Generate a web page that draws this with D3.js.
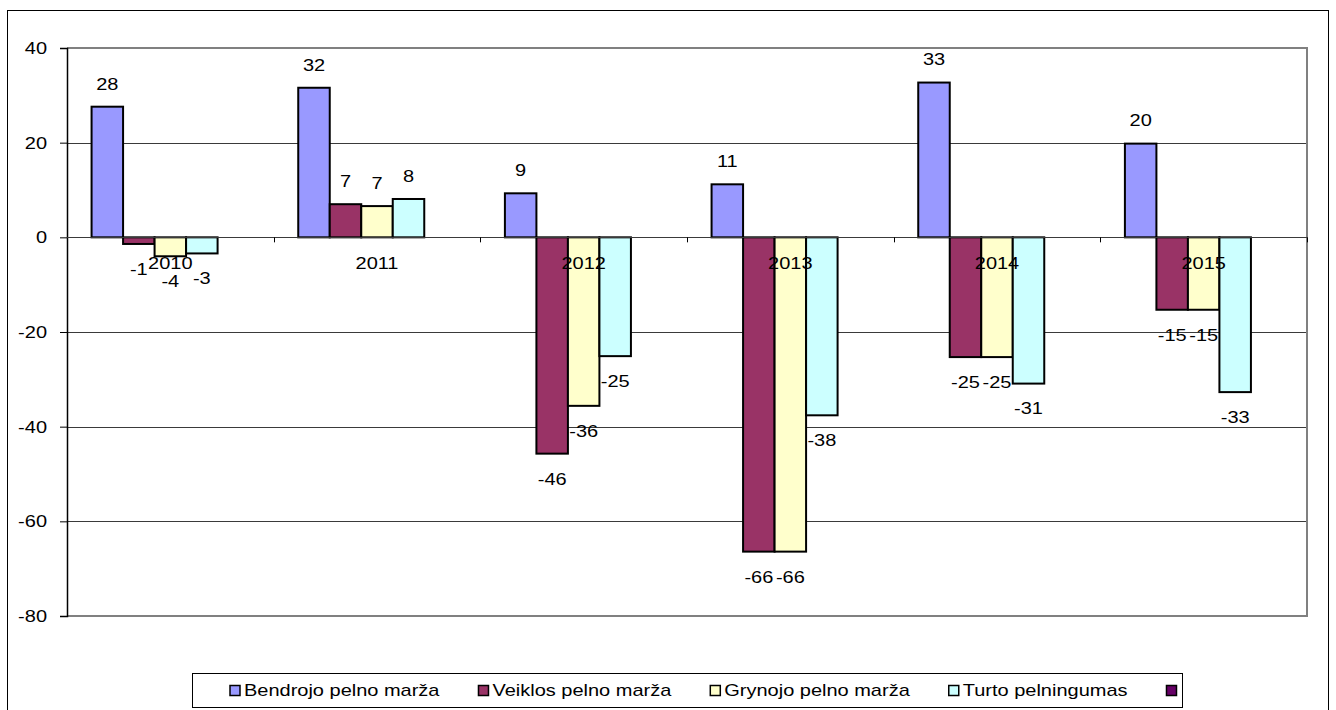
<!DOCTYPE html>
<html>
<head>
<meta charset="utf-8">
<script src="https://cdn.jsdelivr.net/npm/d3@7"></script>
<style>
  html, body { margin: 0; padding: 0; background: #fff; }
  svg { display: block; }
  text { font-family: "Liberation Sans", Arial, sans-serif; fill: #000; }
</style>
</head>
<body>
<svg id="chart" width="1336" height="710"></svg>
<script>
// ---- data ----
const years = ["2010", "2011", "2012", "2013", "2014", "2015"];
const seriesNames = ["Bendrojo pelno marža", "Veiklos pelno marža", "Grynojo pelno marža", "Turto pelningumas", ""];
const seriesColors = ["#9999FF", "#993366", "#FFFFCC", "#CCFFFF", "#660066"];
const bendrojo = [27.6, 31.6, 9.3, 11.2, 32.7, 19.8];
const veiklos  = [-1.4, 7.0, -45.7, -66.4, -25.3, -15.3];
const grynojo  = [-4.0, 6.6, -35.6, -66.4, -25.3, -15.3];
const turto    = [-3.4, 8.1, -25.1, -37.6, -30.9, -32.7];
const yTicks = [40, 20, 0, -20, -40, -60, -80];

const seriesValues = [bendrojo, veiklos, grynojo, turto, []];

// ---- layout ----
const svg = d3.select("#chart");
const SX = 1.19;          // horizontal stretch of the text
const FS = 16.8;          // font size
const L = 67, R = 1307, T = 48, B = 616;

function stext(g, x, y, str, anchor) {
  return g.append("text")
    .attr("transform", `translate(${x},${y}) scale(${SX},1)`)
    .attr("text-anchor", anchor || "middle")
    .attr("dy", "0.35em")
    .style("font-size", FS + "px")
    .text(str);
}

// outer frame
svg.append("rect").attr("x", 7.5).attr("y", 10.5).attr("width", 1321).attr("height", 720)
  .attr("fill", "#fff").attr("stroke", "#000").attr("stroke-width", 1);

const y = d3.scaleLinear().domain([-80, 40]).range([B, T]);
const x0 = d3.scaleBand().domain(years).range([L, R]).paddingInner(0).paddingOuter(0);
const x1 = d3.scaleBand().domain(d3.range(seriesNames.length)).range([0, x0.bandwidth()])
  .paddingInner(0).paddingOuter(0.78);

// gridlines
svg.append("g").selectAll("line").data(yTicks.filter(t => t !== 40 && t !== -80)).join("line")
  .attr("x1", L).attr("x2", R)
  .attr("y1", d => Math.round(y(d)) + 0.5).attr("y2", d => Math.round(y(d)) + 0.5)
  .attr("stroke", "#3a3a3a").attr("stroke-width", 1);

// plot border (top, right, bottom)
svg.append("path")
  .attr("d", `M${L},${Math.round(T)} H${R} V${B} H${L}`)
  .attr("fill", "none").attr("stroke", "#808080").attr("stroke-width", 2);

// bars
const flat = [];
seriesValues.forEach((vals, si) => {
  vals.forEach((v, ci) => flat.push({ si, ci, v }));
});
svg.append("g").selectAll("rect").data(flat).join("rect")
  .attr("x", d => x0(years[d.ci]) + x1(d.si))
  .attr("width", x1.bandwidth())
  .attr("y", d => y(Math.max(0, d.v)))
  .attr("height", d => Math.abs(y(d.v) - y(0)))
  .attr("fill", d => seriesColors[d.si])
  .attr("stroke", "#000").attr("stroke-width", 2);

// y axis
const yAxis = d3.axisLeft(y).tickValues(yTicks).tickSize(7).tickFormat("");
const yg = svg.append("g").attr("transform", `translate(${L},0)`).call(yAxis);
yg.select(".domain").attr("stroke", "#000").attr("stroke-width", 1.5);
yg.selectAll(".tick line").attr("stroke", "#000");
const yl = svg.append("g");
yTicks.forEach(t => stext(yl, 47, y(t), String(t), "end"));

// category axis at zero
svg.append("line").attr("x1", L).attr("x2", R)
  .attr("y1", Math.round(y(0)) + 0.5).attr("y2", Math.round(y(0)) + 0.5)
  .attr("stroke", "#3a3a3a").attr("stroke-width", 1);
const cTicks = years.map(yr => x0(yr)).concat([R]).slice(1);
svg.append("g").selectAll("line").data(cTicks).join("line")
  .attr("x1", d => Math.round(d) + 0.5).attr("x2", d => Math.round(d) + 0.5)
  .attr("y1", y(0)).attr("y2", y(0) + 5)
  .attr("stroke", "#000");

// value labels
const vl = svg.append("g");
flat.forEach(d => {
  const cx = x0(years[d.ci]) + x1(d.si) + x1.bandwidth() / 2;
  const ly = d.v >= 0 ? y(d.v) - 23 : y(d.v) + 25;
  stext(vl, cx, ly, String(Math.round(d.v)), "middle");
});

// category labels
const cl = svg.append("g");
years.forEach(yr => stext(cl, x0(yr) + x0.bandwidth() / 2, 263, yr, "middle"));

// legend
const lg = svg.append("g");
lg.append("rect").attr("x", 192.5).attr("y", 673.5).attr("width", 990).attr("height", 34)
  .attr("fill", "#fff").attr("stroke", "#000").attr("stroke-width", 1);
let lx = 230;
const ly = 690.5;
seriesNames.forEach((name, i) => {
  lg.append("rect").attr("x", lx).attr("y", ly - 5).attr("width", 10).attr("height", 10)
    .attr("fill", seriesColors[i]).attr("stroke", "#000").attr("stroke-width", 1.5);
  const t = stext(lg, lx + 14, ly, name, "start");
  const w = t.node().getComputedTextLength() * SX;
  lx = lx + 14 + w + 39;
});
</script>
</body>
</html>
